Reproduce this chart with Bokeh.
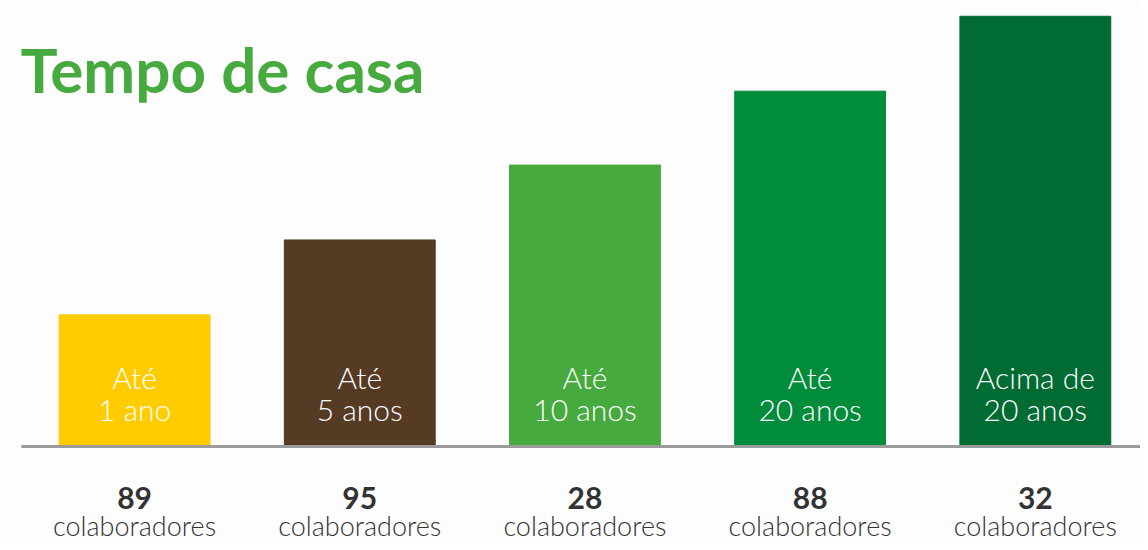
from bokeh.plotting import figure
from bokeh.models import Range1d, Label, ColumnDataSource
from bokeh.core.properties import value
from bokeh.embed import file_html
from bokeh.resources import INLINE

# data
line1 = ["Até", "Até", "Até", "Até", "Acima de"]
line2 = ["1 ano", "5 anos", "10 anos", "20 anos", "20 anos"]
counts = [89, 95, 28, 88, 32]
unit_label = "colaboradores"
bar_levels = [132, 208, 284, 359, 435]
colors = ["#FFCC00", "#553A24", "#46AA3E", "#008C3A", "#006B33"]

n = len(counts)
xs = list(range(n))
src = ColumnDataSource(dict(
    x=xs, top=bar_levels, color=colors, l1=line1, l2=line2,
    num=[str(c) for c in counts], unit=[unit_label] * n,
))

W, H = 1140, 542
p = figure(width=W, height=H, output_backend="svg", toolbar_location=None,
           x_range=Range1d(-0.5954, 4.467), y_range=Range1d(-99, 451),
           min_border=0, outline_line_color=None,
           background_fill_color="#FDFDFD", border_fill_color="#FDFDFD")
p.xaxis.visible = False
p.yaxis.visible = False
p.grid.visible = False

p.vbar(x="x", top="top", bottom=0, width=0.67, color="color", source=src)

# baseline
p.segment(x0=[-0.503], y0=[-1.5], x1=[4.467], y1=[-1.5], line_color="#9B9B9B", line_width=3)

light = value("Lato Light")
p.text(x="x", y=69, text="l1", source=src, text_color="white", text_font=light,
       text_font_size="30px", text_align="center", text_baseline="middle")
p.text(x="x", y=36, text="l2", source=src, text_color="white", text_font=light,
       text_font_size="30px", text_align="center", text_baseline="middle")
p.text(x="x", y=-54, text="num", source=src, text_color="#333333", text_font=value("Lato"),
       text_font_style="bold", text_font_size="30px", text_align="center", text_baseline="middle")
p.text(x="x", y=-82, text="unit", source=src, text_color="#333333", text_font=light,
       text_font_size="27px", text_align="center", text_baseline="middle")

title = Label(x=20, y=474, x_units="screen", y_units="screen", text="Tempo de casa",
              text_font="Lato", text_font_style="bold", text_font_size="62px",
              text_color="#46AA3E", text_baseline="alphabetic")
p.add_layout(title)

open("out.html", "w").write(file_html(p, INLINE))
